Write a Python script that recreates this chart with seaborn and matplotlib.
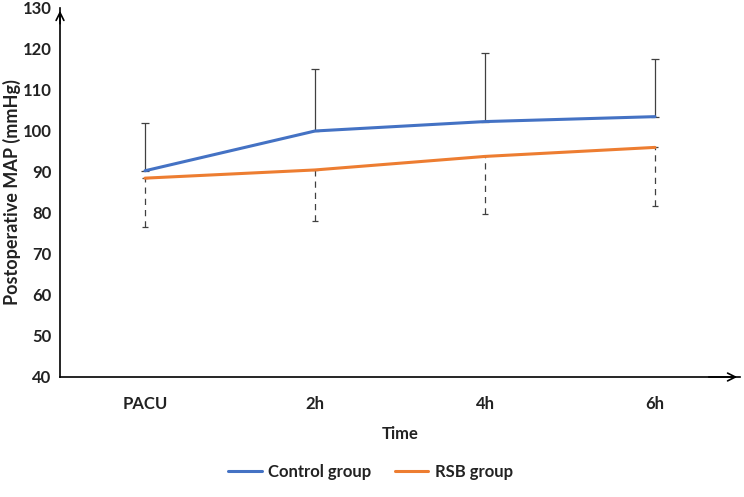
import numpy as np
import pandas as pd
import seaborn as sns
import matplotlib.pyplot as plt
import matplotlib.patheffects as pe

# values
times = ['PACU', '2h', '4h', '6h']
control_mean = [90.3, 100.0, 102.3, 103.5]
control_upper = [102.0, 115.0, 119.0, 117.5]
rsb_mean = [88.5, 90.5, 93.8, 96.0]
rsb_lower = [76.5, 78.0, 79.8, 81.8]

sns.set_style('white')
plt.rcParams['font.family'] = ['Lato', 'DejaVu Sans']

df = pd.DataFrame({
    'Time': times * 2,
    'MAP': control_mean + rsb_mean,
    'Group': ['Control group'] * 4 + ['RSB group'] * 4,
})
df['x'] = list(range(4)) * 2

fig = plt.figure(figsize=(7.44, 4.97), dpi=100)
ax = fig.add_axes([60 / 744, 1 - 377 / 497, 680 / 744, 369 / 497])

xs = np.arange(len(times))
# error bars (one-sided)
ax.errorbar(xs, control_mean, yerr=[np.zeros(4), np.array(control_upper) - np.array(control_mean)],
            fmt='none', ecolor='#404040', elinewidth=0.9, capsize=3, capthick=0.9, zorder=2)
eb = ax.errorbar(xs, rsb_mean, yerr=[np.array(rsb_mean) - np.array(rsb_lower), np.zeros(4)],
                 fmt='none', ecolor='#404040', elinewidth=0.9, capsize=2, capthick=0.9, zorder=2)
eb[2][0].set_linestyle((0, (5, 4)))

shadow = [pe.SimplePatchShadow(offset=(1, -1.5), alpha=0.25, rho=0.4), pe.Normal()]
sns.lineplot(data=df, x='x', y='MAP', hue='Group', ax=ax,
             palette={'Control group': '#4472C4', 'RSB group': '#ED7D31'},
             linewidth=2.2, zorder=3)
for ln in ax.lines[-2:]:
    ln.set_path_effects(shadow)

fs = 12
ax.set_xlim(-0.5, 3.5)
ax.set_ylim(40, 130)
ax.set_yticks(range(40, 131, 10))
ax.set_xticks(xs)
ax.set_xticklabels(times)
ax.tick_params(axis='both', length=0, labelsize=fs, colors='#222222')
ax.tick_params(axis='x', pad=14)
ax.tick_params(axis='y', pad=6)
for lab in ax.get_xticklabels() + ax.get_yticklabels():
    lab.set_fontweight('bold')

for s in ['top', 'right']:
    ax.spines[s].set_visible(False)
for s in ['left', 'bottom']:
    ax.spines[s].set_color('black')
    ax.spines[s].set_linewidth(1.2)

# arrow heads on axes
ax.annotate('', xy=(0, 1.0), xytext=(0, 0.95), xycoords='axes fraction',
            arrowprops=dict(arrowstyle='->', color='black', lw=1.2, mutation_scale=14))
ax.annotate('', xy=(1.0, 0), xytext=(0.95, 0), xycoords='axes fraction',
            arrowprops=dict(arrowstyle='->', color='black', lw=1.2, mutation_scale=14))

ax.set_xlabel('Time', fontsize=fs, fontweight='bold', color='#222222', labelpad=10)
ax.set_ylabel('Postoperative MAP (mmHg)', fontsize=13, fontweight='bold', color='#222222')
ax.yaxis.set_label_coords(-0.057, 0.5)

ax.legend(loc='center', bbox_to_anchor=(0.457, -0.257), ncol=2, frameon=False,
          prop={'weight': 'bold', 'size': fs}, handlelength=2.0, handletextpad=0.4,
          columnspacing=1.4)
for t in ax.get_legend().get_texts():
    t.set_color('#222222')

fig.savefig('out.png', dpi=100)
